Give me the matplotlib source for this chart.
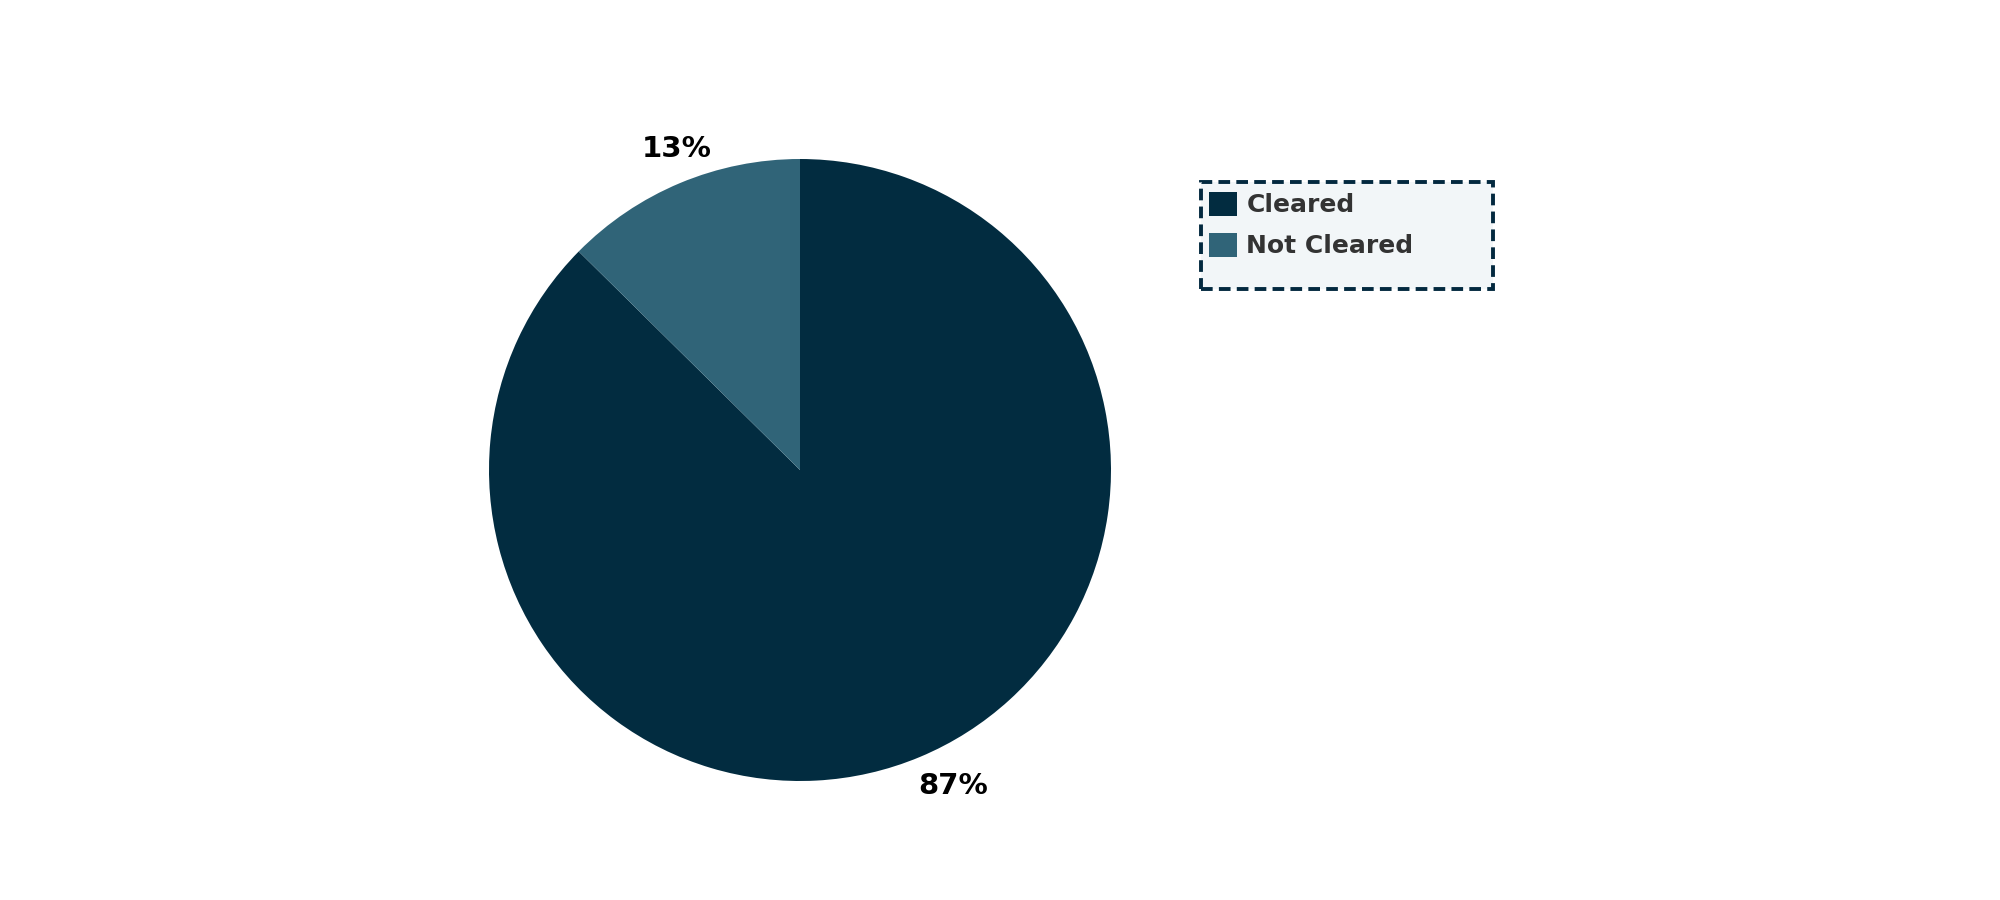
import numpy as np
import matplotlib.pyplot as plt
from matplotlib.patches import Rectangle

# data
labels = ['Cleared', 'Not Cleared']
shares = [87.4, 12.6]
colors = ['#022c40', '#306478']

# label placement nudges (degrees, radius) to match the original layout
label_dangle = [3.1, -1.6]
label_radius = [1.13, 1.106]

fig = plt.figure(figsize=(20, 9), dpi=100)
# pie centred at (800, 470) px from top-left, radius ~311 px
lim = 350 / 311
ax = fig.add_axes([(800 - 350) / 2000, (430 - 350) / 900, 700 / 2000, 700 / 900])

wedges, texts = ax.pie(
    shares, colors=colors, startangle=90, counterclock=False,
    wedgeprops={'linewidth': 0},
)

total = sum(shares)
for w, v, da, r in zip(wedges, shares, label_dangle, label_radius):
    ang = np.deg2rad((w.theta1 + w.theta2) / 2 + da)
    ax.text(r * np.cos(ang), r * np.sin(ang), '%.0f%%' % (100 * v / total),
            ha='center', va='center', fontsize=21, fontweight='heavy',
            color='black', family=['DejaVu Sans'])

ax.set_xlim(-lim, lim)
ax.set_ylim(-lim, lim)
ax.set_aspect('equal')
ax.axis('off')

# legend box (dashed frame drawn separately to get its size)
box = Rectangle((1201 / 2000, 1 - 289 / 900), 292 / 2000, 107 / 900,
                transform=fig.transFigure, facecolor='#f2f6f8',
                edgecolor='#03293f', linestyle=(0, (3, 1.6)), linewidth=2.8,
                zorder=1)
fig.patches.append(box)

leg = fig.legend(
    wedges, labels, loc='upper left', bbox_to_anchor=(1209 / 2000, 1 - 192 / 900),
    prop={'family': 'DejaVu Sans', 'weight': 'bold', 'size': 18},
    handlelength=1.1, handleheight=1.1, handletextpad=0.4, labelspacing=0.6,
    borderpad=0, borderaxespad=0, frameon=False,
)
for txt in leg.get_texts():
    txt.set_color('#333333')

fig.savefig('out.png', dpi=100, facecolor='white')
